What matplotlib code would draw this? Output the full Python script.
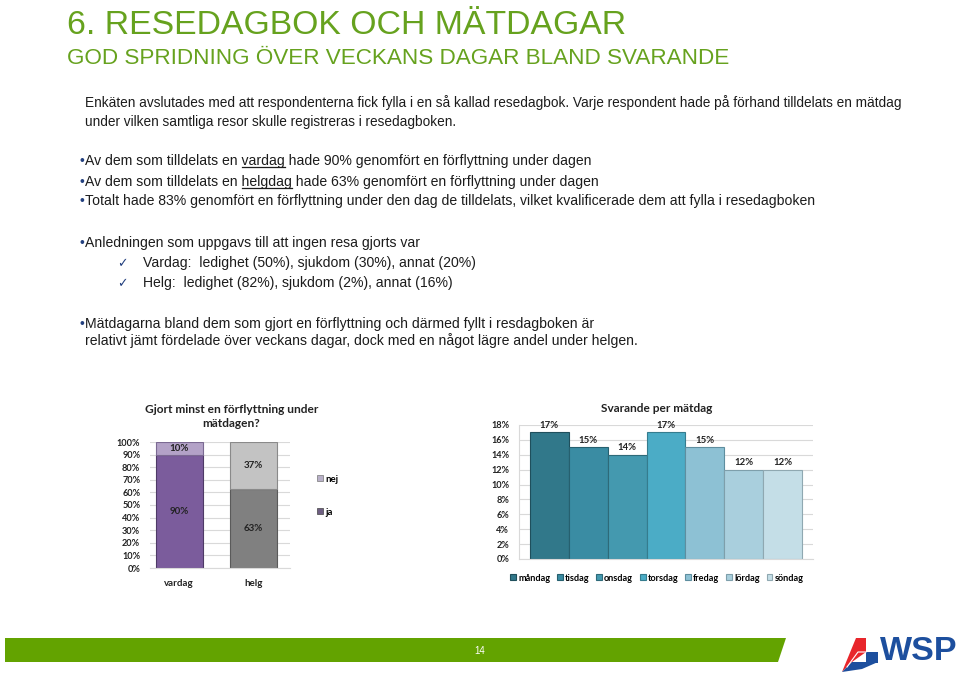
import matplotlib
matplotlib.use("Agg")
import matplotlib.pyplot as plt
from matplotlib.patches import Polygon, Patch

# --- data ---
left_cats = ["vardag", "helg"]
left_ja = [90, 63]
left_nej = [10, 37]

days = ["måndag", "tisdag", "onsdag", "torsdag", "fredag", "lördag", "söndag"]
day_share = [17, 15, 14, 17, 15, 12, 12]

# --- style ---
W, H = 960, 678
GREEN = "#66A21E"
TXT = "#1c1c1c"
NAVY = "#23407F"
BODY = "Liberation Sans"
CHART = "Lato"
CS = 6.6  # chart font size

ja_colors = ["#7B5C9C", "#808080"]
nej_colors = ["#B3A2C7", "#C3C3C3"]
ja_edges = ["#4E3A66", "#5A5A5A"]
nej_edges = ["#7B6A92", "#8A8A8A"]
day_colors = ["#31788A", "#3A8CA3", "#4499AF", "#4BACC6", "#8DC1D4", "#A9CFDD", "#C4DEE7"]
day_edges = ["#1F4F5C", "#26606F", "#2E6A79", "#357C8E", "#5E8E9F", "#7E9FAB", "#8FA8B1"]

fig = plt.figure(figsize=(W / 100, H / 100), dpi=100)
bg = fig.add_axes([0, 0, 1, 1])
bg.set_xlim(0, W)
bg.set_ylim(H, 0)
bg.axis("off")
renderer = fig.canvas.get_renderer()


def px_axes(x0, y0, x1, y1):
    return fig.add_axes([x0 / W, 1 - y1 / H, (x1 - x0) / W, (y1 - y0) / H])


def text_w(s, size):
    t = bg.text(0, 0, s, fontsize=size, family=BODY)
    w = t.get_window_extent(renderer).width
    t.remove()
    return w


# headings
bg.text(67, 25, "6. RESEDAGBOK OCH MÄTDAGAR", fontsize=24.3, family=BODY,
        color=GREEN, va="center")
bg.text(67, 59, "GOD SPRIDNING ÖVER VECKANS DAGAR BLAND SVARANDE", fontsize=16.2,
        family=BODY, color=GREEN, va="center")

# intro text
intro = ["Enkäten avslutades med att respondenterna fick fylla i en så kallad resedagbok. "
         "Varje respondent hade på förhand tilldelats en mätdag",
         "under vilken samtliga resor skulle registreras i resedagboken."]
bg.text(85, 107, intro[0], fontsize=9.8, family=BODY, color=TXT, va="baseline")
bg.text(85, 126, intro[1], fontsize=9.8, family=BODY, color=TXT, va="baseline")

# bullets
BS = 10.1
bullets = [
    (165, "Av dem som tilldelats en vardag hade 90% genomfört en förflyttning under dagen", "vardag"),
    (186, "Av dem som tilldelats en helgdag hade 63% genomfört en förflyttning under dagen", "helgdag"),
    (205, "Totalt hade 83% genomfört en förflyttning under den dag de tilldelats, vilket "
          "kvalificerade dem att fylla i resedagboken", None),
    (247, "Anledningen som uppgavs till att ingen resa gjorts var", None),
    (328, "Mätdagarna bland dem som gjort en förflyttning och därmed fyllt i resdagboken är", None),
]
space_w = text_w("a a", BS) - text_w("aa", BS)
for yb, s, under in bullets:
    bg.text(80, yb, "•", fontsize=BS, family=BODY, color=NAVY, va="baseline")
    bg.text(85, yb, s, fontsize=BS, family=BODY, color=TXT, va="baseline")
    if under:
        pre = s.split(" " + under)[0]
        x0 = 85 + text_w(pre, BS) + space_w
        bg.plot([x0, x0 + text_w(under, BS)], [yb + 2, yb + 2], color=TXT, lw=0.9)
bg.text(85, 345, "relativt jämt fördelade över veckans dagar, dock med en något lägre "
        "andel under helgen.", fontsize=BS, family=BODY, color=TXT, va="baseline")

checks = [(267, "Vardag:  ledighet (50%), sjukdom (30%), annat (20%)"),
          (287, "Helg:  ledighet (82%), sjukdom (2%), annat (16%)")]
for yb, s in checks:
    bg.text(117, yb, "✓", fontsize=9, family="DejaVu Sans", color=NAVY, va="baseline")
    bg.text(143, yb, s, fontsize=BS, family=BODY, color=TXT, va="baseline")

# footer
bg.add_patch(Polygon([(5, 638), (786, 638), (778, 662), (5, 662)], closed=True,
                     facecolor="#63A300", edgecolor="none"))
bg.text(480, 651, "14", fontsize=7, family=BODY, color="white", ha="center", va="center")

# WSP logo
bg.add_patch(Polygon([(842, 672), (856, 638), (866, 638), (866, 652), (852, 662)],
                     closed=True, facecolor="#E8262B", edgecolor="none"))
bg.plot([847, 858, 866], [667, 652, 652], color="white", lw=0.8)
bg.add_patch(Polygon([(866, 652), (878, 652), (878, 663), (866, 663)],
                     closed=True, facecolor="#1D4F9E", edgecolor="none"))
bg.add_patch(Polygon([(842, 672), (852, 662), (878, 662), (862, 669)],
                     closed=True, facecolor="#1D4F9E", edgecolor="none"))
bg.text(880, 651, "WSP", fontsize=24.5, family=BODY, fontweight="bold",
        color="#1D4F9E", va="center")

# --- left chart ---
ax1 = px_axes(150, 442, 290, 568)
x1 = range(len(left_cats))
ax1.bar(x1, left_ja, width=0.63, color=ja_colors, edgecolor=ja_edges, linewidth=0.8)
ax1.bar(x1, left_nej, width=0.63, bottom=left_ja, color=nej_colors, edgecolor=nej_edges,
        linewidth=0.8)
for i in x1:
    ax1.text(i, left_ja[i] / 2, f"{left_ja[i]}%", ha="center", va="center",
             fontsize=CS + 0.4, family=CHART, fontweight="bold", color="#222222")
    ax1.text(i, left_ja[i] + left_nej[i] / 2, f"{left_nej[i]}%", ha="center", va="center",
             fontsize=CS + 0.4, family=CHART, fontweight="bold", color="#222222")
ax1.set_xlim(-0.392, 1.487)
ax1.set_ylim(0, 100)
ax1.set_yticks(range(0, 101, 10))
ax1.set_yticklabels([f"{v}%" for v in range(0, 101, 10)])
ax1.set_xticks(list(x1))
ax1.set_xticklabels(left_cats)
ax1.grid(axis="y", color="#D9D9D9", lw=0.8)
ax1.set_axisbelow(True)
for sp in ["top", "right", "left"]:
    ax1.spines[sp].set_visible(False)
ax1.spines["bottom"].set_color("#D9D9D9")
ax1.tick_params(axis="y", length=0, labelsize=CS, pad=7)
ax1.tick_params(axis="x", length=0, labelsize=CS + 0.4, pad=8)
for lab in ax1.get_xticklabels() + ax1.get_yticklabels():
    lab.set_family(CHART)
    lab.set_fontweight("bold")
    lab.set_color("#222222")
ax1.set_title("Gjort minst en förflyttning under\nmätdagen?", fontsize=8.6,
              family=CHART, fontweight="bold", color="#222222", pad=11, x=0.58,
              linespacing=1.25)
handles = [Patch(facecolor="#B8B0C8", edgecolor="#777777", lw=0.5, label="nej"),
           Patch(facecolor="#6E5E82", edgecolor="#444444", lw=0.5, label="ja")]
ax1.legend(handles=handles, loc="center left", bbox_to_anchor=(1.13, 0.575),
           frameon=False, handlelength=0.6, handleheight=0.6, handletextpad=0.3,
           labelspacing=2.5, prop={"family": CHART, "weight": "bold", "size": CS + 0.3})

# --- right chart ---
ax2 = px_axes(519, 425, 813, 559)
x2 = range(len(days))
bars = ax2.bar(x2, day_share, width=1.0, color=day_colors, edgecolor=day_edges,
               linewidth=0.8)
for i in x2:
    ax2.annotate(f"{day_share[i]}%", (i, day_share[i]), xytext=(0, 2),
                 textcoords="offset points", ha="center", va="bottom", fontsize=CS + 0.3,
                 family=CHART, fontweight="bold", color="#222222")
ax2.set_xlim(-0.783, 6.783)
ax2.set_ylim(0, 18)
ax2.set_yticks(range(0, 19, 2))
ax2.set_yticklabels([f"{v}%" for v in range(0, 19, 2)])
ax2.set_xticks([])
ax2.grid(axis="y", color="#D9D9D9", lw=0.8)
ax2.set_axisbelow(True)
for sp in ["top", "right"]:
    ax2.spines[sp].set_visible(False)
ax2.spines["left"].set_color("#D9D9D9")
ax2.spines["bottom"].set_color("#D9D9D9")
ax2.tick_params(length=0, labelsize=CS, pad=7)
for lab in ax2.get_yticklabels():
    lab.set_family(CHART)
    lab.set_fontweight("bold")
    lab.set_color("#222222")
ax2.set_title("Svarande per mätdag", fontsize=8.6, family=CHART, fontweight="bold",
              color="#222222", pad=9, x=0.47)
ax2.legend(bars, days, loc="center", bbox_to_anchor=(0.469, -0.142), ncol=7,
           frameon=False, handlelength=0.6, handleheight=0.6, handletextpad=0.25,
           columnspacing=0.75, prop={"family": CHART, "weight": "bold", "size": CS})

fig.savefig("out.png", dpi=100)
